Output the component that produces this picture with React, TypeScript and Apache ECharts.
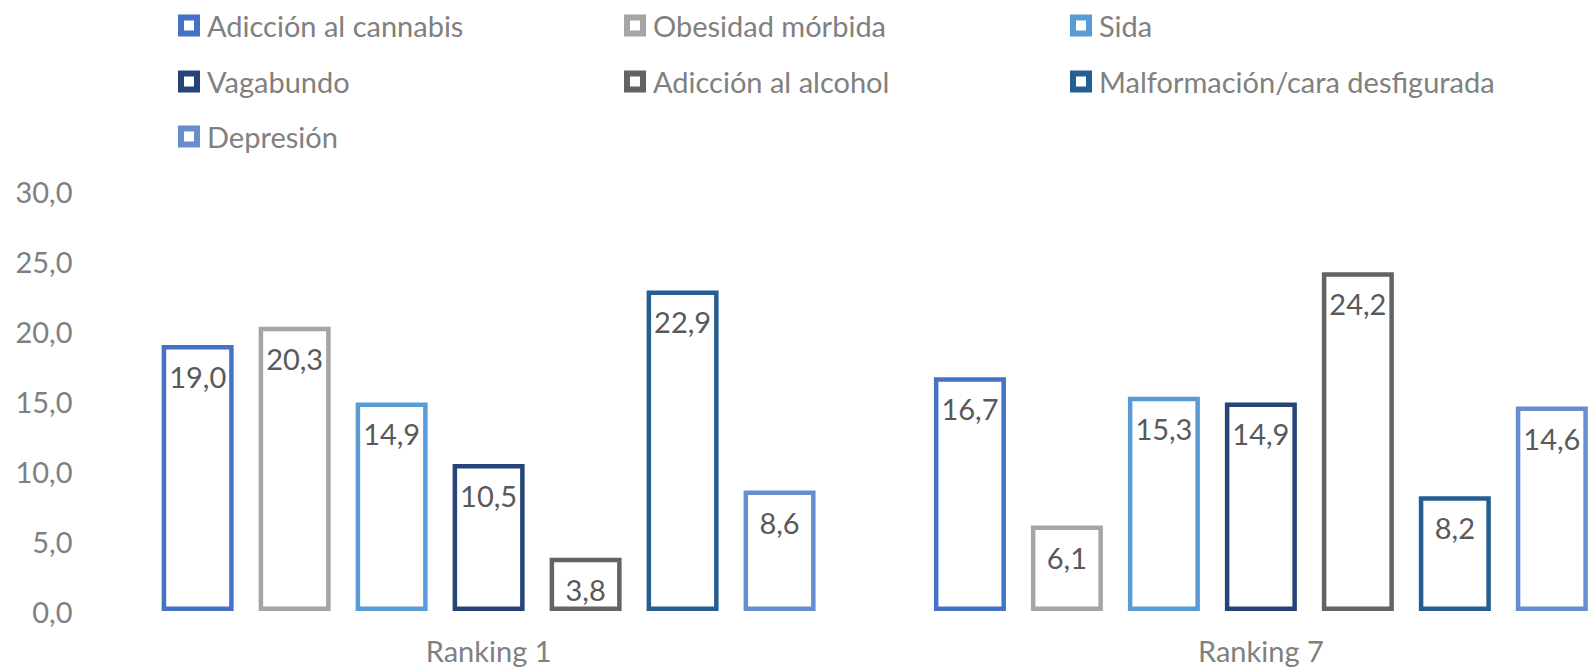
import React, { useEffect, useRef } from "react";
import * as echarts from "echarts";

const categories = ["Ranking 1", "Ranking 7"];
const seriesNames = [
  "Adicción al cannabis",
  "Obesidad mórbida",
  "Sida",
  "Vagabundo",
  "Adicción al alcohol",
  "Malformación/cara desfigurada",
  "Depresión",
];
const cannabis = [19.0, 16.7];
const obesidad = [20.3, 6.1];
const sida = [14.9, 15.3];
const vagabundo = [10.5, 14.9];
const alcohol = [3.8, 24.2];
const malformacion = [22.9, 8.2];
const depresion = [8.6, 14.6];
const seriesValues = [cannabis, obesidad, sida, vagabundo, alcohol, malformacion, depresion];
const colors = ["#4472C4", "#A5A5A5", "#5B9BD5", "#264478", "#636363", "#255E91", "#698ED0"];

const FONT = "Lato, 'Open Sans', sans-serif";
const fmt = (v: number) => v.toFixed(1).replace(".", ",");

const legendLefts = [178, 624, 1070];
const legendTops = [11, 67, 122];
const ICON = "path://M0,0H22V22H0Z M6,6V16H16V6Z";

export default function App() {
  const ref = useRef<HTMLDivElement>(null);
  useEffect(() => {
    if (!ref.current) return;
    const chart = echarts.init(ref.current, undefined, { renderer: "svg" });
    const legends = seriesNames.map((name, i) => ({
      data: [name],
      left: legendLefts[i % 3],
      top: legendTops[Math.floor(i / 3)],
      padding: 0,
      itemWidth: 22,
      itemHeight: 22,
      icon: ICON,
      itemStyle: { color: colors[i], borderWidth: 0 },
      textStyle: {
        fontFamily: FONT,
        fontSize: 29,
        color: "#808080",
        lineHeight: 28,
        padding: [0, 0, 0, 2],
      },
      selectedMode: false,
    }));
    chart.setOption({
      animation: false,
      legend: legends,
      grid: { left: 102.5, right: 0, top: 191, bottom: 56, containLabel: false },
      xAxis: {
        type: "category",
        data: categories,
        axisLine: { show: false },
        axisTick: { show: false },
        axisLabel: {
          fontFamily: FONT,
          fontSize: 29,
          color: "#808080",
          margin: 24,
          lineHeight: 30,
        },
      },
      yAxis: {
        type: "value",
        min: 0,
        max: 30,
        interval: 5,
        splitLine: { show: false },
        axisLine: { show: false },
        axisTick: { show: false },
        axisLabel: {
          fontFamily: FONT,
          fontSize: 29,
          color: "#808080",
          margin: 30,
          formatter: (v: number) => fmt(v),
        },
      },
      series: seriesNames.map((name, i) => ({
        name,
        type: "bar",
        data: seriesValues[i],
        barWidth: 72,
        barGap: "34.7%",
        itemStyle: { color: "#ffffff", borderColor: colors[i], borderWidth: 4.5 },
        label: {
          show: true,
          position: "insideTop",
          distance: 17,
          fontFamily: FONT,
          fontSize: 29,
          color: "#595959",
          formatter: (p: any) => fmt(p.value),
        },
      })),
    });
    return () => chart.dispose();
  }, []);
  return (
    <div
      style={{
        position: "fixed",
        left: 0,
        top: 0,
        width: 1589,
        height: 667,
        overflow: "hidden",
        background: "#fff",
      }}
    >
      <div ref={ref} style={{ width: 1646.5, height: 667 }} />
    </div>
  );
}
